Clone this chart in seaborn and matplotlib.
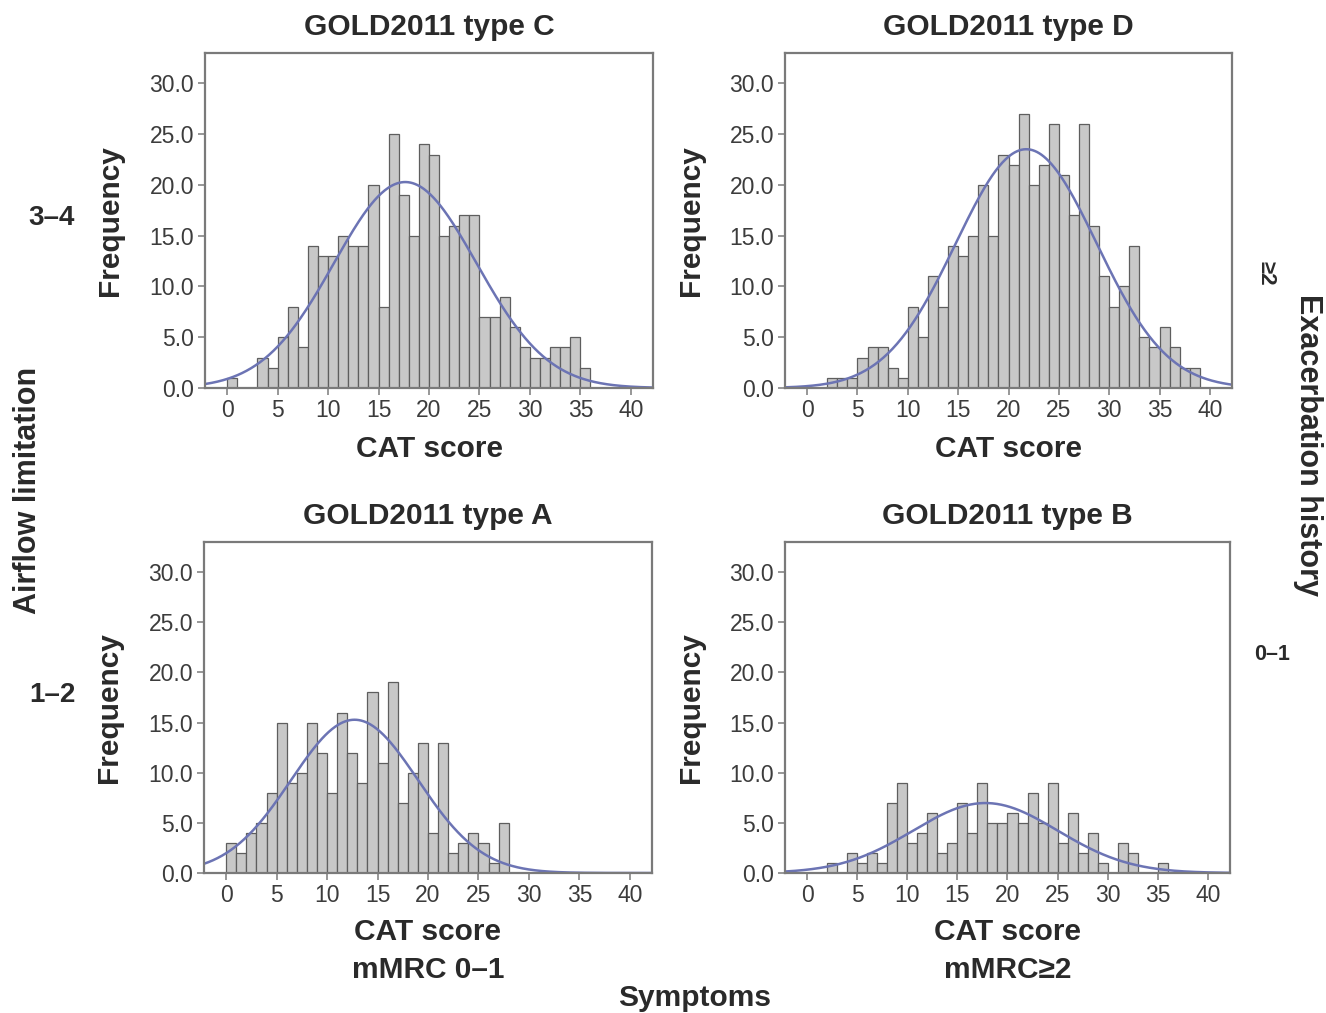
import numpy as np
import pandas as pd
import matplotlib
matplotlib.use("Agg")
import matplotlib.pyplot as plt
from matplotlib.ticker import FormatStrFormatter
import seaborn as sns

# CAT scores 0..40 and the number of patients at each score, per GOLD2011 group
cat_scores = list(range(0, 41))

counts_c = [1, 0, 0, 3, 2, 5, 8, 4, 14, 13, 13, 15, 14, 14, 20, 8, 25, 19, 15, 24,
            23, 15, 16, 17, 17, 7, 7, 9, 6, 4, 3, 3, 4, 4, 5, 2, 0, 0, 0, 0, 0]
counts_d = [0, 0, 1, 1, 1, 3, 4, 4, 2, 1, 8, 5, 11, 8, 14, 13, 15, 20, 15, 23,
            22, 27, 20, 22, 26, 21, 17, 26, 16, 11, 8, 10, 14, 5, 4, 6, 4, 2, 2, 0, 0]
counts_a = [3, 2, 4, 5, 8, 15, 9, 10, 15, 12, 8, 16, 12, 9, 18, 11, 19, 7, 10, 13,
            4, 13, 2, 3, 4, 3, 1, 5, 0, 0, 0, 0, 0, 0, 0, 0, 0, 0, 0, 0, 0]
counts_b = [0, 0, 1, 0, 2, 1, 2, 1, 7, 9, 3, 4, 6, 2, 3, 7, 4, 9, 5, 5,
            6, 5, 8, 5, 9, 3, 6, 2, 4, 1, 0, 3, 2, 0, 0, 1, 0, 0, 0, 0, 0]

panel_titles = ["GOLD2011 type C", "GOLD2011 type D", "GOLD2011 type A", "GOLD2011 type B"]
x_ticks = [0, 5, 10, 15, 20, 25, 30, 35, 40]
y_ticks = [0, 5, 10, 15, 20, 25, 30]

sns.set_theme(style="ticks")
plt.rcParams["font.family"] = ["Liberation Sans", "DejaVu Sans"]

BAR_FILL = "#c8c8c8"
BAR_EDGE = "#5e5e5e"
CURVE = "#6c74b4"
SPINE = "#7a7a7a"
TEXT = "#2a2a2a"
LABEL_SIZE = 21.5

W, H = 1326, 1013
fig = plt.figure(figsize=(W / 100, H / 100), dpi=100)


def px_axes(left, top, right, bottom):
    return fig.add_axes([left / W, 1 - bottom / H, (right - left) / W, (bottom - top) / H])


panels = [
    (counts_c, px_axes(205, 53, 653, 388), -0.14),
    (counts_d, px_axes(785, 53, 1232, 388), -0.14),
    (counts_a, px_axes(204, 542, 652, 873), -0.136),
    (counts_b, px_axes(785, 542, 1230, 873), -0.136),
]

grid = np.linspace(-2.2, 42.2, 400)

for (counts, ax, xlab_y), title in zip(panels, panel_titles):
    df = pd.DataFrame({"score": np.asarray(cat_scores, dtype=float),
                       "n": np.asarray(counts, dtype=float)})
    sns.histplot(data=df, x="score", weights="n", binwidth=1, binrange=(0, 41), ax=ax,
                 color=BAR_FILL, edgecolor=BAR_EDGE, linewidth=0.9, alpha=1.0)

    # normal curve fitted to the same scores and counts
    w = np.asarray(counts, dtype=float)
    s = np.asarray(cat_scores, dtype=float)
    n = w.sum()
    mu = (w * s).sum() / n
    sd = np.sqrt((w * (s - mu) ** 2).sum() / (n - 1))
    dens = n * np.exp(-0.5 * ((grid - mu) / sd) ** 2) / (sd * np.sqrt(2 * np.pi))
    sns.lineplot(x=grid, y=dens, ax=ax, color=CURVE, linewidth=1.8)

    ax.set_xlim(-2.2, 42.2)
    ax.set_ylim(0, 33)
    ax.set_xticks(x_ticks)
    ax.set_yticks(y_ticks)
    ax.yaxis.set_major_formatter(FormatStrFormatter("%.1f"))
    ax.tick_params(axis="both", labelsize=16.5, colors=SPINE, labelcolor="#3c3c3c",
                   length=5, width=1.1, pad=3)
    for sp in ax.spines.values():
        sp.set_visible(True)
        sp.set_color(SPINE)
        sp.set_linewidth(1.6)

    ax.set_title(title, fontsize=LABEL_SIZE, fontweight="bold", color=TEXT, pad=13)
    ax.set_xlabel("CAT score", fontsize=LABEL_SIZE, fontweight="bold", color=TEXT)
    ax.set_ylabel("Frequency", fontsize=LABEL_SIZE, fontweight="bold", color=TEXT)
    ax.yaxis.set_label_coords(-0.18, 0.5)
    ax.xaxis.set_label_coords(0.5, xlab_y)


def ftext(x, y, s, size=LABEL_SIZE, rot=0):
    fig.text(x / W, 1 - y / H, s, ha="center", va="center", rotation=rot,
             fontsize=size, fontweight="bold", color=TEXT)


ftext(52, 218, "3–4", size=20)
ftext(52, 695, "1–2", size=20)
ftext(28, 490, "Airflow limitation", size=22, rot=90)
ftext(1266, 273, "≥2", size=16, rot=270)
ftext(1308, 445, "Exacerbation history", size=22, rot=270)
ftext(1272, 655, "0–1", size=15.5)
ftext(428, 970, "mMRC 0–1")
ftext(1008, 970, "mMRC≥2")
ftext(695, 998, "Symptoms")

fig.savefig("out.png", dpi=100, facecolor="white")
